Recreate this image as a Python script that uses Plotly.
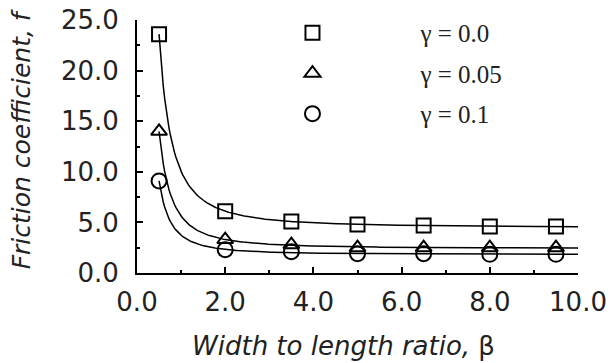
import numpy as np
import plotly.graph_objects as go

beta = [0.5, 2.0, 3.5, 5.0, 6.5, 8.0, 9.5]
f_g000 = [23.6, 6.1, 5.1, 4.8, 4.7, 4.6, 4.6]
f_g005 = [14.0, 3.3, 2.8, 2.5, 2.5, 2.5, 2.5]
f_g010 = [9.1, 2.3, 2.1, 1.9, 1.9, 1.85, 1.85]
series_names = ["γ = 0.0", "γ = 0.05", "γ = 0.1"]
x_ticks = [0, 2, 4, 6, 8, 10]
y_ticks = [0, 5, 10, 15, 20, 25]

def power_fit(x, y):
    """Least-squares fit of y = a + b * x**(-n); returns fitted curve."""
    x = np.asarray(x, float); y = np.asarray(y, float)
    best = None
    for n in np.arange(0.3, 4.0, 0.01):
        A = np.column_stack([np.ones_like(x), x ** (-n)])
        coef, *_ = np.linalg.lstsq(A, y, rcond=None)
        err = np.sum((A @ coef - y) ** 2)
        if best is None or err < best[0]:
            best = (err, n, coef)
    _, n, (a, b) = best
    xs = np.linspace(0.5, 10.0, 300)
    return xs, a + b * xs ** (-n)

symbols = ["square-open", "triangle-up-open", "circle-open"]
sizes = [14, 14, 15]
fig = go.Figure()
for ys, name, sym, sz in zip([f_g000, f_g005, f_g010], series_names, symbols, sizes):
    xs, yf = power_fit(beta, ys)
    fig.add_trace(go.Scatter(x=xs, y=yf, mode="lines", line=dict(color="black", width=1.5),
                             showlegend=False, hoverinfo="skip"))
for i, (ys, name, sym, sz) in enumerate(zip([f_g000, f_g005, f_g010], series_names, symbols, sizes)):
    fig.add_trace(go.Scatter(x=beta, y=ys, mode="markers", name=name, legendgroup=str(i),
                             marker=dict(symbol=sym, size=sz, color="black", line=dict(width=2, color="black"))))

tickfont = dict(family="DejaVu Sans", size=26, color="#222")
fig.update_layout(
    width=610, height=363,
    margin=dict(l=137, r=32, t=20, b=90, autoexpand=False),
    paper_bgcolor="white", plot_bgcolor="white",
    showlegend=True,
    legend=dict(x=0.153, y=1.04, xanchor="left", yanchor="top",
                font=dict(family="Liberation Serif", size=25, color="#222"),
                itemwidth=206, tracegroupgap=5, bgcolor="rgba(0,0,0,0)"),
    xaxis=dict(range=[0, 10], tickvals=x_ticks, ticktext=[f"{v:.1f}" for v in x_ticks],
               showgrid=False, zeroline=False, showline=True, linecolor="black", linewidth=2,
               ticks="inside", ticklen=6, tickwidth=2, tickcolor="black", tickfont=tickfont,
               ticklabelstandoff=5,
               minor=dict(dtick=1, ticks="inside", ticklen=3, tickwidth=2, tickcolor="black")),
    yaxis=dict(range=[0, 25], tickvals=y_ticks, ticktext=[f"{v:.1f}" for v in y_ticks],
               showgrid=False, zeroline=False, showline=True, linecolor="black", linewidth=2,
               ticks="inside", ticklen=6, tickwidth=2, tickcolor="black", tickfont=tickfont,
               ticklabelstandoff=11,
               minor=dict(dtick=2.5, ticks="inside", ticklen=3, tickwidth=2, tickcolor="black")),
    annotations=[
        dict(text="<i>Friction coefficient, f</i>", xref="paper", yref="paper",
             x=-0.262, y=0.53, textangle=-90, showarrow=False,
             font=dict(family="DejaVu Sans", size=25, color="#222"), xanchor="center", yanchor="middle"),
        dict(text="<i>Width to length ratio, </i>β", xref="paper", yref="paper",
             x=0.469, y=-0.288, showarrow=False,
             font=dict(family="DejaVu Sans", size=26, color="#222"), xanchor="center", yanchor="middle"),
    ],
)
fig.write_html("out.html", config={"displayModeBar": False},
               post_script="document.body.style.margin='0';")
